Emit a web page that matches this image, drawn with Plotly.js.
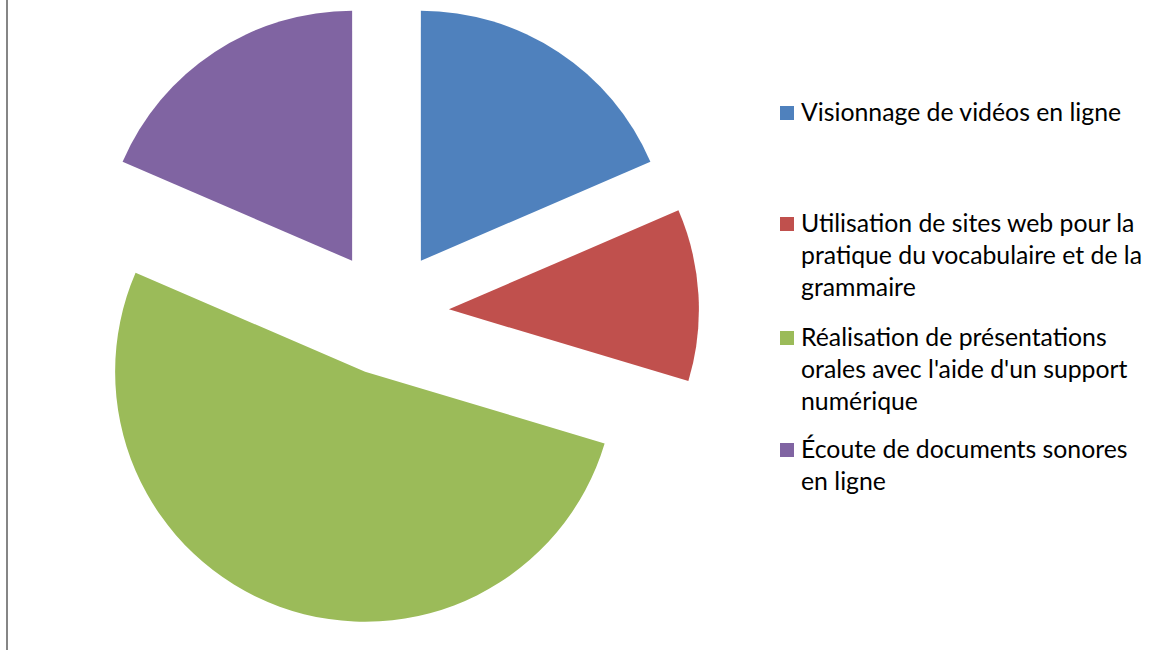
<!DOCTYPE html>
<html>
<head>
<meta charset="utf-8">
<script src="https://cdn.plot.ly/plotly-3.0.1.min.js"></script>
<style>html,body{margin:0;padding:0;background:#fff;}#chart{width:1172px;height:650px;}</style>
</head>
<body>
<div id="chart"></div>
<script>
const categories = [
  "Visionnage de vidéos en ligne",
  "Utilisation de sites web pour la<br>pratique du vocabulaire et de la<br>grammaire",
  "Réalisation de présentations<br>orales avec l'aide d'un support<br>numérique",
  "Écoute de documents sonores<br>en ligne"
];
const values = [5, 3, 14, 5];
const colors = ["#4F81BD", "#C0504D", "#9BBB59", "#8064A2"];
const pulls = [0.25, 0.25, 0.25, 0.25];

const W = 1172, H = 650;
// legend layout (pixel rows of each entry's first line, Excel-style legend)
const legendRowsPx = [113, 224, 338, 450];
const legendMarkerX = 780, legendMarkerSize = 14, legendTextX = 799, legendFont = 24.8;

const trace = {
  type: "pie",
  labels: categories.map(c => c.replace(/<br>/g, " ")),
  values: values,
  marker: {colors: colors, line: {width: 0}},
  pull: pulls,
  sort: false,
  direction: "clockwise",
  rotation: 0,
  textinfo: "none",
  hoverinfo: "label+value+percent",
  showlegend: false,
  domain: {x: [(386.5 - 312.5) / W, (386.5 + 312.5) / W], y: [(H - 313 - 312.5) / H, (H - 313 + 312.5) / H]}
};

const annotations = categories.map((c, i) => ({
  xref: "paper", yref: "paper",
  x: legendTextX / W, y: 1 - (legendRowsPx[i] - 18) / H,
  xanchor: "left", yanchor: "top", align: "left",
  showarrow: false, text: c,
  font: {family: "Lato, 'Open Sans', sans-serif", size: legendFont, color: "#000000"}
}));
const shapes = colors.map((col, i) => ({
  type: "rect", xref: "paper", yref: "paper",
  x0: legendMarkerX / W, x1: (legendMarkerX + legendMarkerSize) / W,
  y0: 1 - (legendRowsPx[i] - legendMarkerSize / 2) / H, y1: 1 - (legendRowsPx[i] + legendMarkerSize / 2) / H,
  fillcolor: col, line: {width: 0}
}));
shapes.push({type: "line", xref: "paper", yref: "paper", x0: 7 / W, x1: 7 / W, y0: 0, y1: 1, line: {color: "#868686", width: 2}});

const layout = {
  width: W, height: H,
  margin: {l: 0, r: 0, t: 0, b: 0},
  paper_bgcolor: "#ffffff",
  showlegend: false,
  annotations: annotations,
  shapes: shapes
};
Plotly.newPlot("chart", [trace], layout, {displayModeBar: false, staticPlot: true});
</script>
</body>
</html>
